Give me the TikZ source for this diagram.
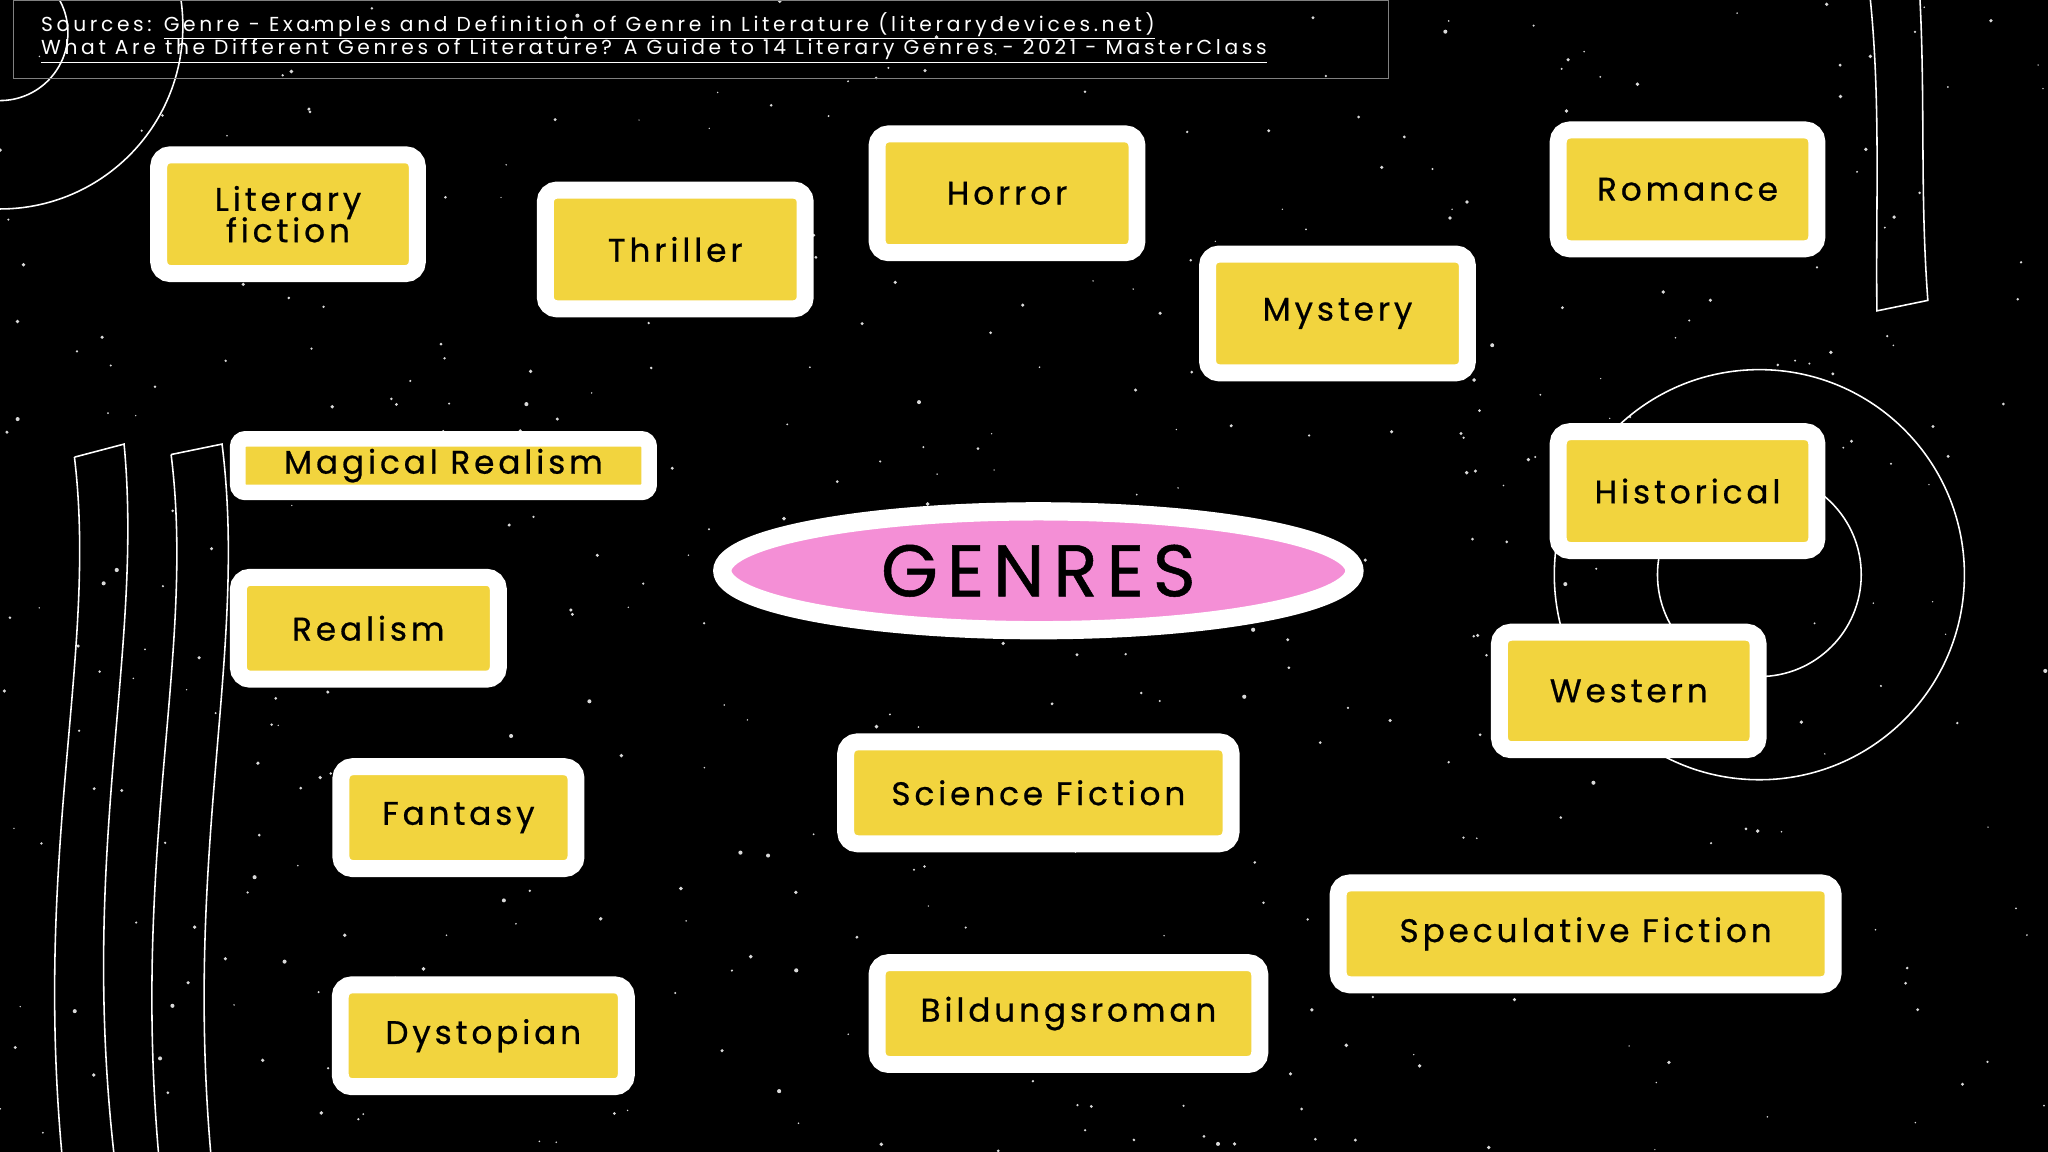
\documentclass[tikz,border=0pt]{standalone}
\usepackage{fontspec}
\setmainfont{Poppins}[LetterSpace=12,FakeBold=0.7]
\newfontfamily\srcfont{Poppins}[LetterSpace=18]
\usetikzlibrary{shapes.geometric}
\definecolor{gy}{HTML}{F2D43E}
\definecolor{pk}{HTML}{F48FD6}
\tikzset{
 gbox/.style={draw=white,line width=13pt,fill=gy,rounded corners=9pt,inner sep=0pt,align=center,font=\fontsize{25}{30}\selectfont,text=black},
 deco/.style={draw=white,line width=1.2pt}
}
\begin{document}
\begin{tikzpicture}[x=1pt,y=-1pt]
\fill[black] (0,0) rectangle (1568,882);
\useasboundingbox (0,0) rectangle (1568,882);
\pgfmathsetseed{7}
\foreach \i in {1,...,500}{
 \pgfmathsetmacro\px{rnd*1568}\pgfmathsetmacro\py{rnd*882}\pgfmathsetmacro\pr{0.5+rnd*1.1}
 \fill[white!70!gray] (\px,\py) circle (\pr);
}
% decorations
\begin{scope}
\clip (0,0) rectangle (1568,882);
\draw[deco] (0,25) circle (52);
\draw[deco] (0,20) circle (140);
\draw[deco] (1347,440) circle (157);
\draw[deco] (1347,440) circle (78);
\draw[deco] (1432,0) .. controls (1440,80) and (1436,160) .. (1437,238) -- (1476,230) .. controls (1470,150) and (1474,80) .. (1470,0);
\draw[deco] (57,350) -- (95,340) .. controls (110,500) and (60,650) .. (88,890) (57,350) .. controls (75,500) and (25,650) .. (48,890);
\draw[deco] (131,348) -- (170,340) .. controls (190,500) and (140,650) .. (162,890) (131,348) .. controls (150,500) and (100,650) .. (122,890);
\end{scope}
\draw[gray,line width=0.8pt] (10,0) rectangle (1063,60);
\node[anchor=west,text=white,font=\srcfont\fontsize{15.5}{17}\selectfont] (s1) at (28,20) {Sources: \underline{Genre - Examples and Definition of Genre in Literature (literarydevices.net)}};
\node[anchor=west,text=white,font=\srcfont\fontsize{15.5}{17}\selectfont] (s2) at (28,39) {\underline{What Are the Different Genres of Literature? A Guide to 14 Literary Genres - 2021 - MasterClass}};
% boxes
\node[gbox,minimum width=198pt,minimum height=91pt] (lit) at (220.5,164) {Literary\\[-6pt]fiction};
\node[gbox,minimum width=199pt,minimum height=91pt] (thr) at (517,191) {Thriller};
\node[gbox,minimum width=199pt,minimum height=91pt] (hor) at (771,148) {Horror};
\node[gbox,minimum width=198pt,minimum height=91pt] (rom) at (1292,145) {Romance};
\node[gbox,minimum width=199pt,minimum height=91pt] (mys) at (1024,240) {Mystery};
\node[gbox,line width=12pt,rounded corners=6pt,minimum width=315pt,minimum height=41pt] (mag) at (339.5,356.5) {Magical Realism};
\node[gbox,minimum width=199pt,minimum height=78pt] (rea) at (282,481) {Realism};
\node[gbox,minimum width=198pt,minimum height=91pt] (his) at (1292,376) {Historical};
\node[gbox,minimum width=198pt,minimum height=90pt] (wes) at (1247,529) {Western};
\node[gbox,minimum width=295pt,minimum height=78pt] (sci) at (795,607) {Science Fiction};
\node[gbox,minimum width=180pt,minimum height=78pt] (fan) at (351,626) {Fantasy};
\node[gbox,minimum width=379pt,minimum height=78pt] (spe) at (1214,715) {Speculative Fiction};
\node[gbox,minimum width=293pt,minimum height=78pt] (bil) at (818,776) {Bildungsroman};
\node[gbox,minimum width=219pt,minimum height=78pt] (dys) at (370,793) {Dystopian};
\node[ellipse,draw=white,line width=14pt,fill=pk,minimum width=484pt,minimum height=91pt,inner sep=0pt,font=\fontsize{56}{60}\selectfont] (gen) at (795,437) {GENRES};
\end{tikzpicture}
\end{document}
